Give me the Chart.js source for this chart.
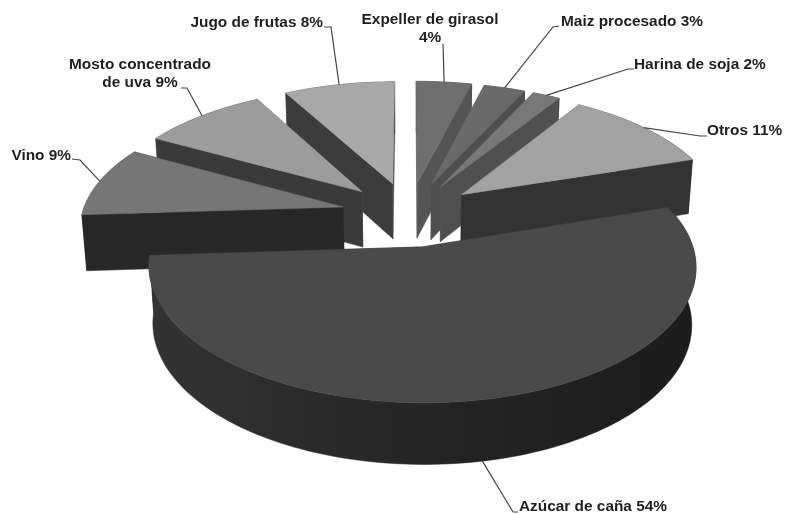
<!DOCTYPE html>
<html lang="es">
<head>
<meta charset="utf-8">
<title>Azúcar de caña 54%</title>
<script src="https://cdn.jsdelivr.net/npm/chart.js@4/dist/chart.umd.min.js"></script>
<style>
    html, body { margin: 0; padding: 0; background: #fff; }
    canvas { display: block; }
</style>
</head>
<body>
<canvas id="pieChart" width="785" height="514"></canvas>
<script>
/* Data */
const categories = ['Expeller de girasol', 'Maiz procesado', 'Harina de soja', 'Otros',
    'Azúcar de caña', 'Vino', 'Mosto concentrado de uva', 'Jugo de frutas'];
const values = [4, 3, 2, 11, 54, 9, 9, 8];

/* Slice colours */
const topColors   = ['#6f6f6f', '#6a6a6a', '#787878', '#a2a2a2', '#4a4a4a', '#767676', '#9c9c9c', '#a8a8a8'];
const frontWalls  = ['#555555', '#4f4f4f', '#505050', '#333333', '#252525', '#282828', '#3a3a3a', '#3c3c3c'];
const backWalls   = ['#5c5c5c', '#5c5c5c', '#5c5c5c', '#444444', '#333333', '#3a3a3a', '#565656', '#505050'];

/* Label layout: text lines, anchor of the text, elbow points of the leader */
const labelLines = [
    ['Expeller de girasol', '4%'], ['Maiz procesado 3%'], ['Harina de soja 2%'], ['Otros 11%'],
    ['Azúcar de caña 54%'], ['Vino 9%'], ['Mosto concentrado', 'de uva 9%'], ['Jugo de frutas 8%']
];
const labelSpots = [
    { x: 430, y: 20, align: 'center', leader: [[443, 44]] },
    { x: 561, y: 22, align: 'left', leader: [[553, 27], [559, 26]] },
    { x: 634, y: 65, align: 'left', leader: [[628, 69], [634, 69]] },
    { x: 707, y: 131, align: 'left', leader: [[700, 136], [707, 136]] },
    { x: 519, y: 507, align: 'left', leader: [[513, 512], [518, 512]] },
    { x: 71, y: 156, align: 'right', leader: [[80, 160], [72, 159]] },
    { x: 140, y: 65, align: 'center', leader: [[187, 88], [181, 88]] },
    { x: 323, y: 23, align: 'right', leader: [[331, 27], [324, 27]] }
];

/* Camera: tilt of the ground plane, viewing distance, height of the pie */
const TILT = 0.475;
const VIEW_DIST = 1870;
const PIE_HEIGHT = 56;
const BASE_SHRINK = 0.985;

function scaleAt(groundY) {
    return VIEW_DIST / (VIEW_DIST - groundY);
}

// ground point (relative to the chart centre) -> canvas point on top or bottom face
function project(cx, cy, gx, gy, bottom) {
    const s = scaleAt(gy);
    return {
        x: cx + gx * s * (bottom ? BASE_SHRINK : 1),
        y: cy + gy * s * TILT + (bottom ? PIE_HEIGHT * Math.sqrt(s) : 0)
    };
}

function sliceGeometry(arc) {
    const p = arc.getProps(['x', 'y', 'startAngle', 'endAngle', 'outerRadius']);
    const offset = arc.options.offset;
    const mid = (p.startAngle + p.endAngle) / 2;
    const ox = Math.cos(mid) * offset;
    const oy = Math.sin(mid) * offset;
    const rimAt = (a, bottom) => project(p.x, p.y,
        ox + Math.cos(a) * p.outerRadius, oy + Math.sin(a) * p.outerRadius, bottom);
    const rim = (bottom) => {
        const pts = [];
        const steps = Math.ceil((p.endAngle - p.startAngle) * 40);
        for (let i = 0; i <= steps; i++) {
            pts.push(rimAt(p.startAngle + (p.endAngle - p.startAngle) * i / steps, bottom));
        }
        return pts;
    };
    return {
        mid, rimAt, rim,
        apex: project(p.x, p.y, ox, oy, false),
        apexBase: project(p.x, p.y, ox, oy, true),
        depth: Math.sin(mid),
        start: p.startAngle,
        end: p.endAngle
    };
}

function fillPoly(ctx, pts, fill) {
    ctx.beginPath();
    pts.forEach((pt, i) => (i ? ctx.lineTo(pt.x, pt.y) : ctx.moveTo(pt.x, pt.y)));
    ctx.closePath();
    ctx.fillStyle = fill;
    ctx.strokeStyle = fill;
    ctx.lineWidth = 0.5;
    ctx.fill();
    ctx.stroke();
}

const pie3d = {
    id: 'pie3d',
    beforeDatasetDraw(chart) {
        const ctx = chart.ctx;
        const arcs = chart.getDatasetMeta(0).data;
        const slices = arcs.map((arc, i) => ({ i, g: sliceGeometry(arc) }));

        // back slices first
        slices.slice().sort((a, b) => a.g.depth - b.g.depth).forEach(({ i, g }) => {
            const startWall = [g.apex, g.rimAt(g.start), g.rimAt(g.start, true), g.apexBase];
            const endWall = [g.apex, g.rimAt(g.end), g.rimAt(g.end, true), g.apexBase];
            const leftSide = Math.cos(g.mid) < 0;
            const reflex = g.end - g.start > Math.PI;

            const topRim = g.rim(false);
            const baseRim = g.rim(true);
            const minX = Math.min(...baseRim.map(pt => pt.x));
            const maxX = Math.max(...baseRim.map(pt => pt.x));
            const band = ctx.createLinearGradient(minX, 0, maxX, 0);
            band.addColorStop(0, backWalls[i]);
            band.addColorStop(0.5, frontWalls[i]);
            band.addColorStop(1, '#1c1c1c');
            const rimFace = topRim.concat(baseRim.slice().reverse());

            // on the big slice the rim is what faces us, on the others the cut walls are
            if (!reflex) fillPoly(ctx, rimFace, band);
            fillPoly(ctx, leftSide ? endWall : startWall, backWalls[i]);
            fillPoly(ctx, leftSide ? startWall : endWall, frontWalls[i]);
            if (reflex) fillPoly(ctx, rimFace, band);
            fillPoly(ctx, [g.apex].concat(topRim), topColors[i]);
        });

        drawLabels(ctx, slices);
        return false;
    }
};

function drawLabels(ctx, slices) {
    ctx.font = 'bold 15.4px "Liberation Sans", Arial, sans-serif';
    ctx.textBaseline = 'middle';
    slices.forEach(({ i, g }) => {
        const spot = labelSpots[i];
        // leader leaves from the middle of the slice's rim
        const front = Math.sin(g.mid) > 0;
        const anchor = g.rimAt(g.mid, front);
        ctx.beginPath();
        ctx.moveTo(anchor.x, anchor.y);
        spot.leader.forEach(pt => ctx.lineTo(pt[0], pt[1]));
        ctx.strokeStyle = '#444444';
        ctx.lineWidth = 1.2;
        ctx.stroke();

        ctx.fillStyle = '#1f1f1f';
        ctx.textAlign = spot.align;
        labelLines[i].forEach((line, n) => ctx.fillText(line, spot.x, spot.y + n * 18));
    });
}

new Chart(document.getElementById('pieChart'), {
    type: 'pie',
    data: {
        labels: categories,
        datasets: [{
            data: values,
            backgroundColor: topColors,
            borderWidth: 0,
            offset: 68
        }]
    },
    options: {
        responsive: false,
        animation: false,
        radius: 261,
        layout: { padding: { left: 33, bottom: 86 } },
        plugins: { legend: { display: false }, tooltip: { enabled: false } }
    },
    plugins: [pie3d]
});
</script>
</body>
</html>
